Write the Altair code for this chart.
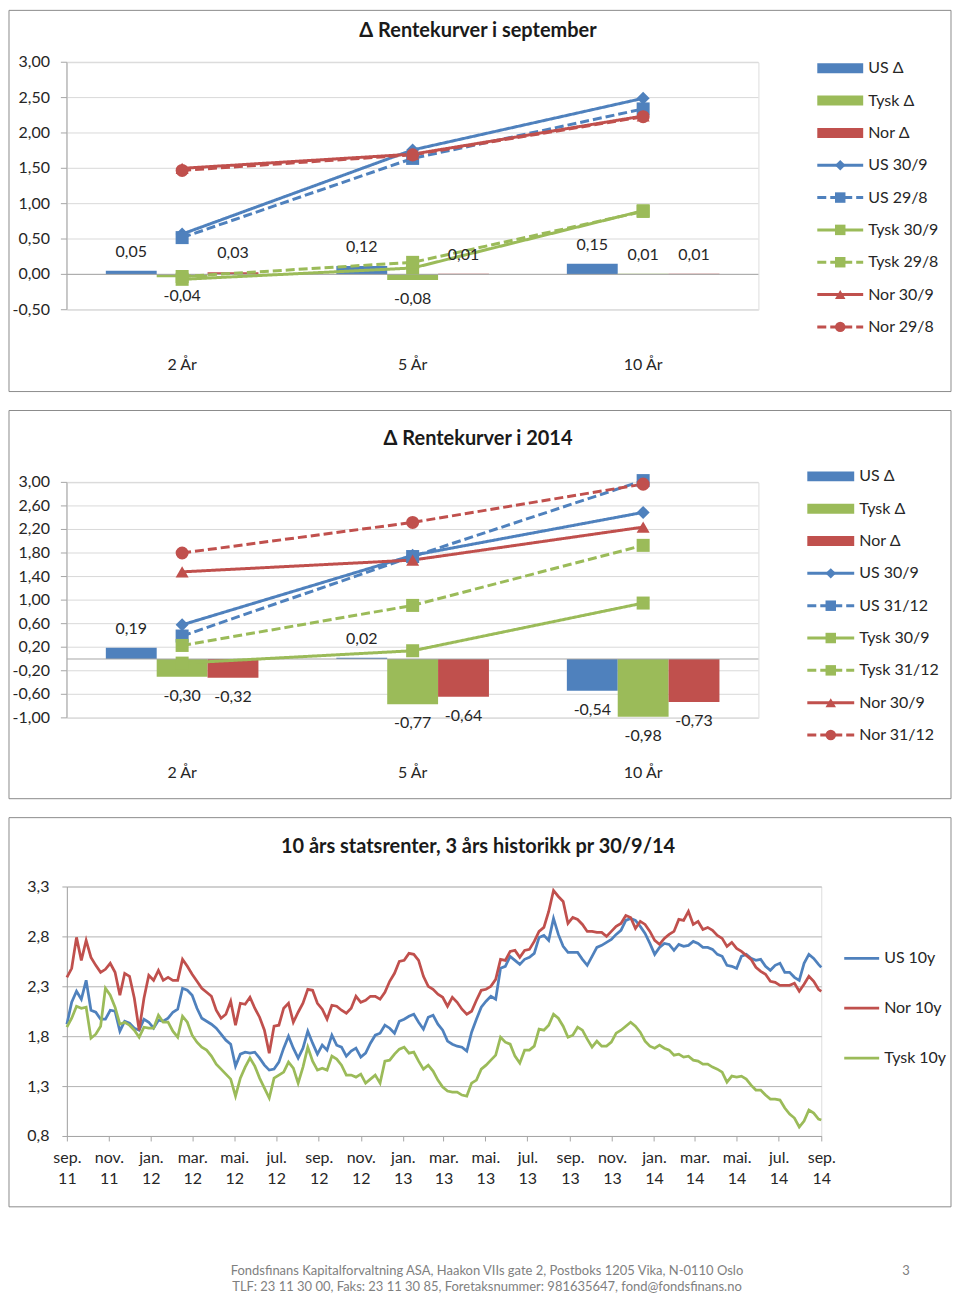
import altair as alt
import pandas as pd

FONT = "Lato"
BLUE, GREEN, RED = "#4f81bd", "#9bbb59", "#c0504d"
TXT = "#262626"
FRAME = "#8c8c8c"
AXIS = "#a6a6a6"
ONE = pd.DataFrame({"k": [0]})

# ---------------- data: panel 1 (september) ----------------
categories = ["2 År", "5 År", "10 År"]

sep_delta_us = [0.05, 0.12, 0.15]
sep_delta_tysk = [-0.04, -0.08, 0.01]
sep_delta_nor = [0.03, 0.01, 0.01]
sep_us_30_9 = [0.57, 1.76, 2.49]
sep_us_29_8 = [0.52, 1.64, 2.34]
sep_tysk_30_9 = [-0.07, 0.09, 0.90]
sep_tysk_29_8 = [-0.03, 0.17, 0.89]
sep_nor_30_9 = [1.50, 1.70, 2.24]
sep_nor_29_8 = [1.47, 1.69, 2.23]
sep_ticks = [-0.5, 0.0, 0.5, 1.0, 1.5, 2.0, 2.5, 3.0]

# ---------------- data: panel 2 (2014) ----------------
y14_delta_us = [0.19, 0.02, -0.54]
y14_delta_tysk = [-0.30, -0.77, -0.98]
y14_delta_nor = [-0.32, -0.64, -0.73]
y14_us_30_9 = [0.58, 1.76, 2.49]
y14_us_31_12 = [0.39, 1.74, 3.03]
y14_tysk_30_9 = [-0.07, 0.14, 0.95]
y14_tysk_31_12 = [0.23, 0.91, 1.93]
y14_nor_30_9 = [1.48, 1.68, 2.24]
y14_nor_31_12 = [1.80, 2.32, 2.97]
y14_ticks = [-1.0, -0.6, -0.2, 0.2, 0.6, 1.0, 1.4, 1.8, 2.2, 2.6, 3.0]

# ---------------- data: panel 3 (10y history, weekly) ----------------
hist_start = "2011-09-30"
hist_end = "2014-09-30"
us_10y = [
    1.92, 2.14, 2.25, 2.17, 2.36, 2.06, 2.04, 1.97, 1.97, 2.06,
    2.05, 1.85, 1.95, 1.93, 1.88, 1.86, 1.97, 1.94, 1.88, 1.96,
    1.95, 1.98, 2.04, 2.07, 2.28, 2.26, 2.21, 2.08, 1.98, 1.95,
    1.92, 1.88, 1.82, 1.76, 1.72, 1.50, 1.62, 1.64, 1.63, 1.64,
    1.58, 1.51, 1.46, 1.47, 1.54, 1.68, 1.80, 1.68, 1.58, 1.68,
    1.85, 1.73, 1.62, 1.71, 1.66, 1.81, 1.71, 1.69, 1.60, 1.65,
    1.68, 1.59, 1.63, 1.73, 1.81, 1.83, 1.91, 1.88, 1.83, 1.95,
    1.97, 2.00, 2.02, 1.94, 1.87, 1.99, 2.01, 1.92, 1.86, 1.75,
    1.72, 1.70, 1.69, 1.65, 1.84, 1.97, 2.09, 2.15, 2.20, 2.17,
    2.48, 2.50, 2.60, 2.56, 2.52, 2.57, 2.59, 2.63, 2.79, 2.81,
    2.76, 2.98, 2.82, 2.70, 2.64, 2.64, 2.64, 2.57, 2.51, 2.60,
    2.69, 2.71, 2.74, 2.77, 2.82, 2.86, 2.96, 2.98, 2.96, 2.90,
    2.83, 2.73, 2.62, 2.69, 2.73, 2.72, 2.66, 2.72, 2.70, 2.71,
    2.75, 2.73, 2.69, 2.69, 2.67, 2.62, 2.60, 2.51, 2.50, 2.48,
    2.60, 2.62, 2.58, 2.56, 2.57, 2.50, 2.46, 2.51, 2.53, 2.44,
    2.44, 2.39, 2.36, 2.53, 2.62, 2.58, 2.52, 2.49,
]
nor_10y = [
    2.39, 2.48, 2.79, 2.56, 2.76, 2.59, 2.51, 2.44, 2.47, 2.53,
    2.44, 2.21, 2.43, 2.40, 2.18, 1.86, 2.18, 2.41, 2.36, 2.46,
    2.36, 2.39, 2.36, 2.36, 2.57, 2.50, 2.42, 2.35, 2.28, 2.24,
    2.20, 2.06, 1.98, 2.02, 2.15, 1.91, 2.13, 2.12, 2.19, 2.08,
    1.99, 1.86, 1.63, 1.90, 1.91, 2.08, 2.13, 1.94, 2.04, 2.13,
    2.27, 2.26, 2.13, 2.07, 1.97, 2.11, 2.10, 2.06, 2.03, 2.08,
    2.20, 2.14, 2.16, 2.20, 2.20, 2.17, 2.24, 2.35, 2.43, 2.55,
    2.56, 2.63, 2.62, 2.56, 2.40, 2.30, 2.27, 2.22, 2.19, 2.10,
    2.19, 2.14, 2.07, 2.02, 2.05, 2.16, 2.26, 2.27, 2.30, 2.37,
    2.57, 2.56, 2.65, 2.66, 2.59, 2.66, 2.67, 2.75, 2.85, 2.89,
    3.05, 3.26, 3.20, 3.15, 2.93, 2.99, 2.97, 2.92, 2.85, 2.85,
    2.84, 2.84, 2.80, 2.85, 2.90, 2.93, 3.01, 2.99, 2.88, 2.95,
    2.92, 2.85, 2.76, 2.72, 2.78, 2.82, 2.85, 2.97, 2.96, 3.05,
    2.92, 2.95, 2.87, 2.89, 2.86, 2.81, 2.78, 2.70, 2.74, 2.68,
    2.65, 2.61, 2.57, 2.49, 2.45, 2.42, 2.35, 2.34, 2.31, 2.31,
    2.31, 2.33, 2.25, 2.32, 2.40, 2.35, 2.27, 2.25,
]
tysk_10y = [
    1.89, 1.98, 2.10, 2.08, 2.09, 1.78, 1.82, 1.90, 2.28, 2.21,
    2.09, 1.92, 1.94, 1.91, 1.86, 1.79, 1.89, 1.88, 1.88, 2.01,
    1.94, 1.94, 1.85, 1.79, 2.00, 1.94, 1.81, 1.74, 1.69, 1.66,
    1.60, 1.52, 1.47, 1.42, 1.37, 1.20, 1.38, 1.49, 1.58, 1.50,
    1.38, 1.28, 1.18, 1.38, 1.41, 1.44, 1.54, 1.48, 1.33, 1.49,
    1.69, 1.55, 1.46, 1.48, 1.46, 1.60, 1.57, 1.51, 1.41, 1.41,
    1.39, 1.42, 1.33, 1.37, 1.41, 1.33, 1.55, 1.56, 1.62, 1.67,
    1.69, 1.63, 1.64, 1.55, 1.47, 1.51, 1.45, 1.36, 1.29, 1.25,
    1.24, 1.24, 1.21, 1.20, 1.33, 1.36, 1.47, 1.51, 1.56, 1.61,
    1.79, 1.74, 1.72, 1.60, 1.53, 1.66, 1.66, 1.70, 1.87, 1.86,
    1.91, 2.02, 1.98, 1.90, 1.79, 1.81, 1.89, 1.86, 1.77, 1.69,
    1.75, 1.70, 1.70, 1.74, 1.83, 1.86, 1.90, 1.94, 1.90, 1.84,
    1.75, 1.70, 1.68, 1.71, 1.68, 1.66, 1.61, 1.62, 1.59, 1.60,
    1.56, 1.55, 1.52, 1.52, 1.49, 1.47, 1.44, 1.34, 1.40, 1.39,
    1.40, 1.37, 1.31, 1.26, 1.26, 1.21, 1.17, 1.17, 1.16, 1.08,
    1.02, 0.98, 0.89, 0.95, 1.06, 1.03, 0.97, 0.96,
]
hist_ticks_y = [0.8, 1.3, 1.8, 2.3, 2.8, 3.3]
hist_tick_months = [(2011, 9), (2011, 11), (2012, 1), (2012, 3), (2012, 5), (2012, 7),
                    (2012, 9), (2012, 11), (2013, 1), (2013, 3), (2013, 5), (2013, 7),
                    (2013, 9), (2013, 11), (2014, 1), (2014, 3), (2014, 5), (2014, 7),
                    (2014, 9)]
month_names = ["jan.", "feb.", "mar.", "apr.", "mai.", "jun.", "jul.", "aug.",
               "sep.", "okt.", "nov.", "des."]

footer_1 = "Fondsfinans Kapitalforvaltning ASA, Haakon VIIs gate 2, Postboks 1205 Vika, N-0110 Oslo"
footer_2 = "TLF: 23 11 30 00, Faks: 23 11 30 85, Foretaksnummer: 981635647, fond@fondsfinans.no"
page_no = "3"

FRAME_X = (-58, 886)


def fmt2(v):
    return ("-" if v < 0 else "") + f"{abs(v):.2f}".replace(".", ",")


def deco_rect(x, x2, y, y2, **kw):
    return alt.Chart(ONE).mark_rect(**kw).encode(
        x=alt.value(x), x2=alt.value(x2), y=alt.value(y), y2=alt.value(y2))


def deco_text(x, y, text, **kw):
    base = dict(font=FONT, baseline="middle")
    base.update(kw)
    return alt.Chart(ONE).mark_text(**base).encode(
        x=alt.value(x), y=alt.value(y), text=alt.value(text))


def frame_layer(y0, y1):
    return deco_rect(FRAME_X[0], FRAME_X[1], y0, y1, fill="transparent", stroke=FRAME, strokeWidth=1)


def legend_layers(entries, x0, x1, xt, y0, step, lw=3, msize=110):
    out = []
    for i, (label, kind, color, shape) in enumerate(entries):
        y = y0 + i * step
        if kind == "bar":
            out.append(deco_rect(x0, x1, y - 5, y + 5, color=color))
        else:
            dash = [1, 0] if kind == "solid" else [9, 4]
            out.append(alt.Chart(ONE).mark_rule(color=color, strokeWidth=lw, strokeDash=dash).encode(
                x=alt.value(x0), x2=alt.value(x1), y=alt.value(y)))
            if shape:
                out.append(alt.Chart(ONE).mark_point(shape=shape, filled=True, color=color,
                                                     size=msize, opacity=1).encode(
                    x=alt.value((x0 + x1) / 2), y=alt.value(y)))
        out.append(deco_text(xt, y, label, align="left", fontSize=16, color=TXT))
    return out


def curve_panel(bar_names, bar_vals, lines, y_domain, y_ticks, height, frame_y,
                title, title_y, legend, legend_geo):
    xs = alt.Scale(type="band", domain=categories, paddingInner=0.338, paddingOuter=0.169)
    ys = alt.Scale(domain=y_domain, nice=False, zero=False)
    bar_colors = [BLUE, GREEN, RED]
    bdf = pd.DataFrame([
        {"cat": c, "series": n, "value": v, "label": fmt2(v), "color": col}
        for n, vals, col in zip(bar_names, bar_vals, bar_colors)
        for c, v in zip(categories, vals)])
    ldf = pd.DataFrame([
        {"cat": c, "idx": i, "series": n, "value": v, "color": col, "dash": d, "shape": sh}
        for (n, vals, col, d, sh) in lines
        for i, (c, v) in enumerate(zip(categories, vals))])
    tdf = pd.DataFrame({"value": y_ticks, "label": [fmt2(t) for t in y_ticks]})
    cdf = pd.DataFrame({"cat": categories})
    xo = alt.XOffset("series:N", sort=bar_names,
                     scale=alt.Scale(domain=bar_names, paddingInner=0, paddingOuter=0))
    Y = alt.Y("value:Q", scale=ys, axis=None)
    XB = alt.X("cat:N", scale=xs, axis=None)
    XL = alt.X("cat:N", scale=xs, axis=None, bandPosition=0.5)

    grid = alt.Chart(tdf).mark_rule(color="#d9d9d9", strokeWidth=1).encode(y=Y)
    ticks = alt.Chart(tdf).mark_rule(color=AXIS, strokeWidth=1).encode(
        y=Y, x=alt.value(-6), x2=alt.value(0))
    tick_labels = alt.Chart(tdf).mark_text(font=FONT, fontSize=16, color=TXT, align="right",
                                           baseline="middle").encode(
        y=Y, x=alt.value(-17), text="label:N")
    y_domain_line = alt.Chart(ONE).mark_rule(color=AXIS, strokeWidth=1).encode(
        x=alt.value(0), y=alt.value(0), y2=alt.value(height))
    cat_labels = alt.Chart(cdf).mark_text(font=FONT, fontSize=16, color=TXT, baseline="middle").encode(
        x=XL, y=alt.value(height + 55), text="cat:N")
    bars = alt.Chart(bdf).mark_bar().encode(
        x=XB, xOffset=xo, y=Y, color=alt.Color("color:N", scale=None))
    zero = alt.Chart(pd.DataFrame({"value": [0.0]})).mark_rule(color=AXIS, strokeWidth=1).encode(y=Y)
    line = alt.Chart(ldf).mark_line(strokeWidth=3).encode(
        x=XL, y=Y, detail="series:N", order="idx:Q",
        color=alt.Color("color:N", scale=None),
        strokeDash=alt.StrokeDash("dash:N", scale=alt.Scale(domain=["solid", "dash"], range=[[1, 0], [9, 4]]),
                                  legend=None))
    pts = alt.Chart(ldf).mark_point(filled=True, size=170, opacity=1).encode(
        x=XL, y=Y, color=alt.Color("color:N", scale=None), shape=alt.Shape("shape:N", scale=None))
    lab_pos = alt.Chart(bdf).transform_filter("datum.value >= 0").mark_text(
        font=FONT, fontSize=16, color=TXT, dy=-19, baseline="middle").encode(
        x=XB, xOffset=xo, y=Y, text="label:N")
    lab_neg = alt.Chart(bdf).transform_filter("datum.value < 0").mark_text(
        font=FONT, fontSize=16, color=TXT, dy=19, baseline="middle").encode(
        x=XB, xOffset=xo, y=Y, text="label:N")

    layers = [frame_layer(*frame_y), grid, ticks, tick_labels, y_domain_line, cat_labels,
              bars, zero, line, pts, lab_pos, lab_neg,
              deco_text(412, title_y, title, fontSize=20, fontWeight="bold", color="#1a1a1a")]
    layers += legend_layers(legend, *legend_geo)
    return alt.layer(*layers).properties(width=693, height=height)


p1 = curve_panel(
    ["US Δ", "Tysk Δ", "Nor Δ"],
    [sep_delta_us, sep_delta_tysk, sep_delta_nor],
    [("US 30/9", sep_us_30_9, BLUE, "solid", "diamond"),
     ("US 29/8", sep_us_29_8, BLUE, "dash", "square"),
     ("Tysk 30/9", sep_tysk_30_9, GREEN, "solid", "square"),
     ("Tysk 29/8", sep_tysk_29_8, GREEN, "dash", "square"),
     ("Nor 30/9", sep_nor_30_9, RED, "solid", "triangle-up"),
     ("Nor 29/8", sep_nor_29_8, RED, "dash", "circle")],
    [-0.5, 3.0], sep_ticks, 248, (-52, 330),
    "Δ Rentekurver i september", -31,
    [("US Δ", "bar", BLUE, None), ("Tysk Δ", "bar", GREEN, None), ("Nor Δ", "bar", RED, None),
     ("US 30/9", "solid", BLUE, "diamond"), ("US 29/8", "dash", BLUE, "square"),
     ("Tysk 30/9", "solid", GREEN, "square"), ("Tysk 29/8", "dash", GREEN, "square"),
     ("Nor 30/9", "solid", RED, "triangle-up"), ("Nor 29/8", "dash", RED, "circle")],
    (752, 798, 803, 6, 32.4))

p2 = curve_panel(
    ["US Δ", "Tysk Δ", "Nor Δ"],
    [y14_delta_us, y14_delta_tysk, y14_delta_nor],
    [("US 30/9", y14_us_30_9, BLUE, "solid", "diamond"),
     ("US 31/12", y14_us_31_12, BLUE, "dash", "square"),
     ("Tysk 30/9", y14_tysk_30_9, GREEN, "solid", "square"),
     ("Tysk 31/12", y14_tysk_31_12, GREEN, "dash", "square"),
     ("Nor 30/9", y14_nor_30_9, RED, "solid", "triangle-up"),
     ("Nor 31/12", y14_nor_31_12, RED, "dash", "circle")],
    [-1.0, 3.0], y14_ticks, 236, (-72, 317),
    "Δ Rentekurver i 2014", -43,
    [("US Δ", "bar", BLUE, None), ("Tysk Δ", "bar", GREEN, None), ("Nor Δ", "bar", RED, None),
     ("US 30/9", "solid", BLUE, "diamond"), ("US 31/12", "dash", BLUE, "square"),
     ("Tysk 30/9", "solid", GREEN, "square"), ("Tysk 31/12", "dash", GREEN, "square"),
     ("Nor 30/9", "solid", RED, "triangle-up"), ("Nor 31/12", "dash", RED, "circle")],
    (742, 789, 794, -6, 32.4))

# ---------------- panel 3 ----------------
dates = list(pd.date_range(hist_start, periods=len(us_10y) - 1, freq="7D").strftime("%Y-%m-%d")) + [hist_end]
hist_series = [("US 10y", us_10y, BLUE), ("Nor 10y", nor_10y, RED), ("Tysk 10y", tysk_10y, GREEN)]
hdf = pd.DataFrame([
    {"date": d, "series": n, "value": v, "color": col}
    for (n, vals, col) in hist_series
    for d, v in zip(dates, vals)])

x_label_expr = ("[[" + ",".join(f"'{m}'" for m in month_names) +
                "][utcmonth(datum.value)], utcFormat(datum.value, '%y')]")
x3 = alt.X("date:T", title=None,
           scale=alt.Scale(type="utc", nice=False,
                           domain=[alt.DateTime(year=2011, month=9, date=30, utc=True),
                                   alt.DateTime(year=2014, month=9, date=30, utc=True)]),
           axis=alt.Axis(values=[alt.DateTime(year=y, month=m, date=30, utc=True) for y, m in hist_tick_months],
                         labelExpr=x_label_expr, labelOverlap=False, labelFlush=False, labelBound=False,
                         tickSize=5, tickColor=AXIS, domainColor=AXIS, labelPadding=9,
                         labelLineHeight=21, labelFontSize=16, labelColor=TXT, labelFont=FONT,
                         grid=False, labelAlign="center"))
y3 = alt.Y("value:Q", title=None,
           scale=alt.Scale(domain=[0.8, 3.3], nice=False, zero=False),
           axis=alt.Axis(values=hist_ticks_y, labelOverlap=False,
                         labelExpr="replace(format(datum.value, '.1f'), '.', ',')",
                         gridColor="#b3b3b3", domainColor=AXIS, tickColor=AXIS, tickSize=5,
                         labelPadding=13, labelFontSize=16, labelColor=TXT, labelFont=FONT))
hist_lines = alt.Chart(hdf).mark_line(strokeWidth=2.75).encode(
    x=x3, y=y3, detail="series:N", color=alt.Color("color:N", scale=None))

p3_layers = [frame_layer(-69, 321), hist_lines,
             deco_text(412, -40, "10 års statsrenter, 3 års historikk pr 30/9/14",
                       fontSize=20, fontWeight="bold", color="#1a1a1a")]
for i, (n, _, col) in enumerate(hist_series):
    y = 72 + 50 * i
    p3_layers.append(alt.Chart(ONE).mark_rule(color=col, strokeWidth=2.75).encode(
        x=alt.value(779), x2=alt.value(814), y=alt.value(y)))
    p3_layers.append(deco_text(819, y, n, align="left", fontSize=16, color=TXT))
p3_layers.append(deco_text(421, 385, footer_1, align="center", fontSize=13, color="#7f7f7f"))
p3_layers.append(deco_text(421, 401, footer_2, align="center", fontSize=13, color="#7f7f7f"))
p3_layers.append(deco_text(841, 385, page_no, align="center", fontSize=13, color="#7f7f7f"))
p3 = alt.layer(*p3_layers).properties(width=756, height=250)

chart = alt.vconcat(p1, p2, p3, spacing=17, padding=0).configure_view(stroke=None).configure(
    font=FONT, background="white")

chart.save("out.html", embed_options={"renderer": "svg", "actions": False})
